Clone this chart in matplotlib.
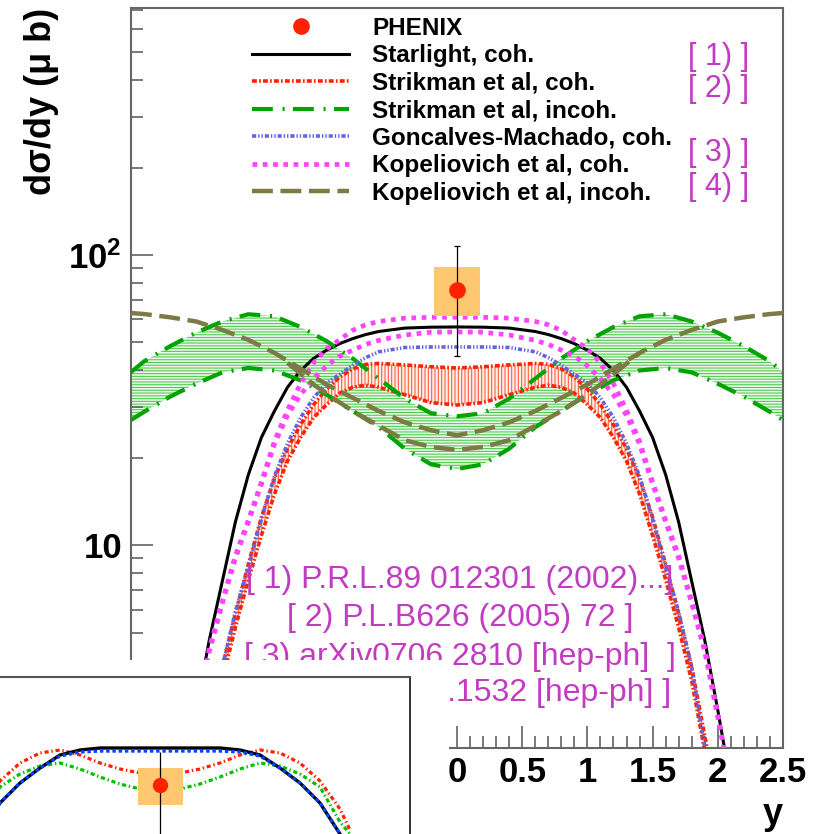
import matplotlib
matplotlib.use("Agg")
import matplotlib.pyplot as plt
from matplotlib.lines import Line2D
from matplotlib.patches import Rectangle
from matplotlib.ticker import MultipleLocator, LogLocator, NullFormatter, FuncFormatter

plt.rcParams['font.family'] = ['Liberation Sans', 'DejaVu Sans']
plt.rcParams['font.weight'] = 'bold'
plt.rcParams['axes.labelweight'] = 'bold'
plt.rcParams['mathtext.fontset'] = 'custom'
plt.rcParams['mathtext.rm'] = 'Liberation Sans'
plt.rcParams['mathtext.bf'] = 'Liberation Sans:bold'
plt.rcParams['lines.scale_dashes'] = False
plt.rcParams['hatch.linewidth'] = 0.8

# ---- main panel data (dsigma/dy in micro-barn vs rapidity y) ----
x_coh = [-2.1, -2.0, -1.9, -1.8, -1.7, -1.6, -1.5, -1.4, -1.3, -1.2, -1.1, -1.0, -0.9, -0.8, -0.7, -0.6,
         -0.4, -0.2, 0.0, 0.2, 0.4,
         0.6, 0.7, 0.8, 0.9, 1.0, 1.1, 1.2, 1.3, 1.4, 1.5, 1.6, 1.7, 1.8, 1.9, 2.0, 2.1]
starlight = [1.5, 2.7, 4.7, 7.5, 12.0, 17.5, 23.5, 29.0, 35.0, 40.0, 44.0, 47.0, 49.5, 51.5, 53.2, 54.5,
             56.0, 56.4, 56.5, 56.4, 56.0,
             54.5, 53.2, 51.5, 49.5, 47.0, 44.0, 40.0, 35.0, 29.0, 23.5, 17.5, 12.0, 7.5, 4.7, 2.7, 1.5]
kop_coh_hi = [1.5, 2.6, 4.4, 6.4, 9.2, 12.2, 16.5, 22.8, 29.2, 36.0, 42.5, 47.5, 51.0, 55.0, 57.5, 59.0,
              60.6, 61.0, 61.0, 61.0, 60.6,
              59.0, 57.5, 55.0, 51.0, 47.5, 42.5, 36.0, 29.2, 22.8, 16.5, 12.2, 9.2, 6.4, 4.4, 2.6, 1.5]
kop_coh_lo = [1.5, 2.55, 4.3, 6.3, 9.0, 12.0, 16.2, 22.3, 28.0, 33.0, 37.5, 41.5, 44.8, 47.0, 49.2, 50.8,
              53.0, 54.2, 54.3, 54.2, 53.0,
              50.8, 49.2, 47.0, 44.8, 41.5, 37.5, 33.0, 28.0, 22.3, 16.2, 12.0, 9.0, 6.3, 4.3, 2.55, 1.5]
goncalves = [0.8, 1.2, 2.0, 3.8, 5.9, 8.4, 12.3, 17.3, 22.4, 27.5, 32.2, 36.2, 38.8, 41.7, 44.3, 46.4,
             48.0, 48.2, 48.2, 48.2, 48.0,
             46.4, 44.3, 41.7, 38.8, 36.2, 32.2, 27.5, 22.4, 17.3, 12.3, 8.4, 5.9, 3.8, 2.0, 1.2, 0.8]
strik_coh_hi = [0.8, 1.3, 2.2, 3.8, 5.8, 8.6, 12.5, 17.0, 21.5, 26.0, 30.5, 34.5, 38.0, 40.5, 42.0, 42.3,
                41.8, 41.2, 40.8, 41.2, 41.8,
                42.3, 42.0, 40.5, 38.0, 34.5, 30.5, 26.0, 21.5, 17.0, 12.5, 8.6, 5.8, 3.8, 2.2, 1.3, 0.8]
strik_coh_lo = [0.7, 1.15, 1.95, 3.4, 5.2, 7.6, 10.8, 15.0, 19.5, 23.5, 27.5, 30.5, 33.4, 35.0, 35.6, 35.0,
                33.0, 31.0, 30.4, 31.0, 33.0,
                35.0, 35.6, 35.0, 33.4, 30.5, 27.5, 23.5, 19.5, 15.0, 10.8, 7.6, 5.2, 3.4, 1.95, 1.15, 0.7]

x_inc = [-2.5, -2.4, -2.2, -2.0, -1.8, -1.6, -1.4, -1.2, -1.0, -0.8, -0.6, -0.4, -0.2, 0.0,
         0.2, 0.4, 0.6, 0.8, 1.0, 1.2, 1.4, 1.6, 1.8, 2.0, 2.2, 2.4, 2.5]
strik_inc_hi = [39.5, 43.0, 48.5, 54.0, 59.0, 62.5, 61.5, 56.5, 50.5, 44.0, 37.5, 32.0, 28.5, 27.8,
                28.5, 32.0, 37.5, 44.0, 50.5, 56.5, 61.5, 62.5, 59.0, 54.0, 48.5, 43.0, 39.5]
strik_inc_lo = [27.0, 28.8, 32.5, 36.0, 39.4, 40.8, 40.0, 37.0, 33.0, 29.0, 25.5, 21.5, 19.0, 18.3,
                19.0, 21.5, 25.5, 29.0, 33.0, 37.0, 40.0, 40.8, 39.4, 36.0, 32.5, 28.8, 27.0]
kop_inc = [63.1, 62.6, 61.0, 59.0, 55.2, 51.0, 46.0, 40.6, 35.8, 32.2, 29.0, 26.5, 24.9, 23.9,
           24.9, 26.5, 29.0, 32.2, 35.8, 40.6, 46.0, 51.0, 55.2, 59.0, 61.0, 62.6, 63.1]
x_kop_inc2 = [-1.3, -1.1, -1.0, -0.8, -0.6, -0.4, -0.2, 0.0, 0.2, 0.4, 0.6, 0.8, 1.0, 1.1, 1.2, 1.4]
kop_inc2 = [42.5, 35.8, 33.2, 29.0, 25.8, 23.0, 21.8, 21.3, 21.8, 23.0, 25.8, 29.0, 33.2, 35.8, 38.8, 46.0]

# PHENIX point
phx = 0.0
phy = 76.0
ph_err_lo, ph_err_hi = 31.0, 31.0
ph_sys_lo, ph_sys_hi = 61.5, 91.0
box_halfwidth = 0.175

legend_labels = ["PHENIX", "Starlight, coh.", "Strikman et al, coh.", "Strikman et al, incoh.",
                 "Goncalves-Machado, coh.", "Kopeliovich et al, coh.", "Kopeliovich et al, incoh."]
ref_tags = ["[ 1) ]", "[ 2) ]", "[ 3) ]", "[ 4) ]"]
ref_lines = ["[ 1) P.R.L.89 012301 (2002)...]", "[ 2) P.L.B626 (2005) 72 ]",
             "[ 3) arXiv0706.2810 [hep-ph]  ]", "[ 4) arXiv0705.1532 [hep-ph] ]"]

# ---- inset data (linear scale, arbitrary units) ----
x_ins = [-1.8, -1.6, -1.4, -1.2, -1.0, -0.8, -0.6, -0.4, -0.2, 0.0, 0.2, 0.4, 0.6, 0.8, 1.0, 1.2, 1.4, 1.6, 1.8]
ins_black = [0, 31, 51, 66, 79, 84, 86, 86, 86, 86, 86, 86, 86, 84, 79, 66, 51, 31, 0]
ins_blue = [0, 31, 51, 66, 78, 82, 83, 83, 83, 83, 83, 83, 83, 82, 78, 66, 51, 31, 0]
x_ins2 = [-1.9, -1.8, -1.6, -1.4, -1.2, -1.0, -0.8, -0.6, -0.4, -0.2, 0.0,
          0.2, 0.4, 0.6, 0.8, 1.0, 1.2, 1.4, 1.6, 1.8, 1.9]
ins_red = [4, 25, 53, 71, 81, 84, 79, 71, 65, 61, 59, 61, 65, 71, 79, 84, 81, 71, 53, 25, 4]
ins_green = [0, 12, 47, 60, 68, 71, 65, 57, 50, 45, 42, 45, 50, 57, 65, 71, 68, 60, 47, 12, 0]
ins_phy = 49
ins_err = [[55], [33]]
ins_sys = (29, 66)
ins_box_halfwidth = 0.225

RED = '#ff2200'
GREEN = '#00a400'
BLUE = '#6464e0'
MAG = '#ff44ff'
OLIVE = '#7d7a45'
REFC = '#c23cc2'

fig = plt.figure(figsize=(8.19, 8.34), dpi=100)
ax = fig.add_axes([131/819, 1-748/834, 652/819, 740/834])

# bands
ax.fill_between(x_inc, strik_inc_lo, strik_inc_hi, facecolor='#ecf9ec', edgecolor='#50cc50',
                hatch='------', lw=0, zorder=1)
ax.fill_between(x_coh, strik_coh_lo, strik_coh_hi, facecolor='#fff0ec', edgecolor='#ff6040',
                hatch='|||||', lw=0, zorder=1.2)

l_star, = ax.plot(x_coh, starlight, color='black', lw=2.2, zorder=3)
l_sc, = ax.plot(x_coh, strik_coh_hi, color=RED, lw=2.6, dashes=(3.5, 1.6, 1.2, 1.6), zorder=3)
ax.plot(x_coh, strik_coh_lo, color=RED, lw=2.6, dashes=(3.5, 1.6, 1.2, 1.6), zorder=3)
l_si, = ax.plot(x_inc, strik_inc_hi, color=GREEN, lw=3.0, dashes=(15, 7, 1.5, 6), zorder=3)
ax.plot(x_inc, strik_inc_lo, color=GREEN, lw=3.0, dashes=(15, 7, 1.5, 6), zorder=3)
l_gm, = ax.plot(x_coh, goncalves, color=BLUE, lw=2.6, dashes=(3, 1.4, 1, 1.4, 1, 1.4), zorder=3)
l_kc, = ax.plot(x_coh, kop_coh_hi, color=MAG, lw=3.4, dashes=(3.4, 4.0), zorder=3)
ax.plot(x_coh, kop_coh_lo, color=MAG, lw=3.4, dashes=(3.4, 4.0), zorder=3)
l_ki, = ax.plot(x_inc, kop_inc, color=OLIVE, lw=3.2, dashes=(15, 5.5), zorder=3)
ax.plot(x_kop_inc2, kop_inc2, color=OLIVE, lw=3.2, dashes=(15, 5.5), zorder=3)

# PHENIX
ax.add_patch(Rectangle((phx - box_halfwidth, ph_sys_lo), 2 * box_halfwidth, ph_sys_hi - ph_sys_lo,
                       facecolor='#ffc870', edgecolor='none', zorder=4))
ax.errorbar([phx], [phy], yerr=[[ph_err_lo], [ph_err_hi]], fmt='o', color=RED, ms=11,
            ecolor='black', elinewidth=0.9, capsize=2, capthick=0.9, zorder=5)

ax.set_xlim(-2.5, 2.5)
ax.set_yscale('log')
ax.set_ylim(2.0, 710)

ax.xaxis.set_major_locator(MultipleLocator(0.5))
ax.xaxis.set_minor_locator(MultipleLocator(0.1))
ax.xaxis.set_major_formatter(FuncFormatter(lambda v, p: '%g' % v))
ax.yaxis.set_major_locator(LogLocator(base=10))
ax.yaxis.set_minor_locator(LogLocator(base=10, subs=range(2, 10)))
ax.yaxis.set_minor_formatter(NullFormatter())


def yfmt(v, p):
    if abs(v - 100) < 1e-6:
        return r'$\mathbf{10^{2}}$'
    if abs(v - 10) < 1e-6:
        return '10'
    return ''


ax.yaxis.set_major_formatter(FuncFormatter(yfmt))
ax.tick_params(which='both', direction='in', top=False, right=False, color='#555555', width=1.1,
               labelsize=25, labelcolor='black')
ax.tick_params(which='major', length=16)
ax.tick_params(which='minor', length=8.5)
ax.tick_params(axis='x', pad=5.5)
ax.tick_params(axis='y', pad=6.5)
for s in ax.spines.values():
    s.set_color('#666666')
    s.set_linewidth(1.5)

ax.set_ylabel('dσ/dy (μ b)', fontsize=26, fontweight='bold', loc='top')
ax.yaxis.set_label_coords(-0.111, 1.0)
ax.set_xlabel('y', fontsize=26, fontweight='bold', loc='right')
ax.xaxis.set_label_coords(1.0, -0.066)

ph_handle = Line2D([], [], marker='o', ls='none', color=RED, ms=11)
ax.legend([ph_handle, l_star, l_sc, l_si, l_gm, l_kc, l_ki], legend_labels, loc='upper left',
          bbox_to_anchor=((252 - 131) / 652, (748 - 17) / 740), frameon=False,
          prop=dict(weight='bold', size=17.5), handlelength=4.0, handletextpad=0.95,
          labelspacing=0.185, borderpad=0, borderaxespad=0)

for tag, yy in zip(ref_tags, [0.934, 0.891, 0.804, 0.758]):
    ax.text(0.854, yy, tag, transform=ax.transAxes, color=REFC, fontsize=22,
            fontweight='normal', ha='left', va='center')
for line, yy in zip(ref_lines, [0.227, 0.1757, 0.123, 0.0743]):
    ax.text(0.5046, yy, line, transform=ax.transAxes, color=REFC, fontsize=23,
            fontweight='normal', ha='center', va='center', zorder=6)

# white patch holding the inset
fig.add_artist(Rectangle((0, 0), 449 / 819, 174 / 834, transform=fig.transFigure,
                         facecolor='white', edgecolor='none', zorder=1))

axi = fig.add_axes([0, 0, 410 / 819, 157 / 834])
axi.set_zorder(2)
axi.plot(x_ins2, ins_red, color=RED, lw=2.3, dashes=(3, 2, 1, 2))
axi.plot(x_ins2, ins_green, color='#00c000', lw=2.3, dashes=(3, 2, 1, 2))
axi.plot(x_ins, ins_black, color='black', lw=2.4)
axi.plot(x_ins, ins_blue, color='#0044ff', lw=2.4, dashes=(2.5, 2))
axi.add_patch(Rectangle((phx - ins_box_halfwidth, ins_sys[0]), 2 * ins_box_halfwidth,
                        ins_sys[1] - ins_sys[0], facecolor='#ffc870', edgecolor='none', zorder=4))
axi.errorbar([phx], [ins_phy], yerr=ins_err, fmt='o', color=RED, ms=10, ecolor='black',
             elinewidth=0.9, zorder=5)
axi.set_xlim(-1.6, 2.5)
axi.set_ylim(0, 157)
axi.set_xticks([])
axi.set_yticks([])
axi.spines['left'].set_visible(False)
axi.spines['bottom'].set_visible(False)
axi.spines['top'].set_color('#555555')
axi.spines['right'].set_color('#222222')
axi.spines['top'].set_linewidth(1.5)
axi.spines['right'].set_linewidth(1.3)

fig.savefig('out.png', dpi=100)
